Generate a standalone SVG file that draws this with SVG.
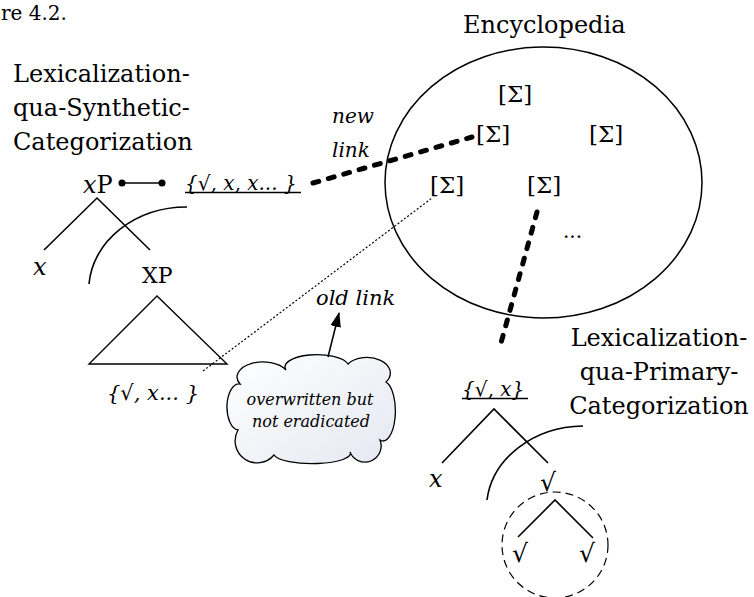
<svg xmlns="http://www.w3.org/2000/svg" width="754" height="597" viewBox="0 0 754 597">
  <style>
    text { font-family: "DejaVu Serif", "Liberation Serif", serif; fill: #000; }
    .lbl { font-size: 24px; }
    .it { font-style: italic; }
    .sig { font-size: 23px; }
    .edge { fill: none; stroke: #000; stroke-width: 1.6; }
    .thick { fill: none; stroke: #000; stroke-width: 5; stroke-dasharray: 6 10; stroke-linecap: round; }
    .thin { fill: none; stroke: #000; stroke-width: 1.2; stroke-dasharray: 2 2; }
  </style>
  <defs>
    <linearGradient id="cloudFill" x1="0" y1="0" x2="1" y2="1">
      <stop offset="0" stop-color="#ffffff"/>
      <stop offset="1" stop-color="#e4e8f1"/>
    </linearGradient>
    <marker id="bigHead" viewBox="0 0 14 10" refX="13" refY="5" markerWidth="15" markerHeight="11" markerUnits="userSpaceOnUse" orient="auto">
      <path d="M0 0 L14 5 L0 10 Z" fill="#000"/>
    </marker>
  </defs>

  <!-- caption fragment at the top edge -->
  <text x="1" y="20" font-size="20">re 4.2.</text>

  <!-- encyclopedia -->
  <g id="encyclopedia">
    <text class="lbl" x="463" y="33">Encyclopedia</text>
    <ellipse cx="543.5" cy="182.5" rx="158.5" ry="135.5" fill="none" stroke="#000" stroke-width="1.5"/>
    <text class="sig" x="498" y="102">[Σ]</text>
    <text class="sig" x="476" y="142">[Σ]</text>
    <text class="sig" x="589" y="142">[Σ]</text>
    <text class="sig" x="430" y="193">[Σ]</text>
    <text class="sig" x="527" y="193">[Σ]</text>
    <text x="563" y="238" font-size="20">...</text>
  </g>

  <!-- synthetic categorization tree -->
  <g id="synthetic">
    <text class="lbl" x="13" y="82">Lexicalization-</text>
    <text class="lbl" x="13" y="116">qua-Synthetic-</text>
    <text class="lbl" x="13" y="150">Categorization</text>
    <text class="lbl" x="83" y="193"><tspan class="it">x</tspan>P</text>
    <path class="edge" d="M44 250 L97 198 L150 250"/>
    <text class="lbl it" x="33" y="275">x</text>
    <text x="142" y="283" font-size="22">XP</text>
    <path class="edge" d="M89 284 A98 83 0 0 1 187 207"/>
    <path d="M157 296 L89 364 L227 364 Z" fill="none" stroke="#000" stroke-width="1.4"/>
    <text class="it" x="107" y="400" font-size="21">{√, x... }</text>
  </g>

  <!-- lexical set linked to xP -->
  <g id="set-new">
    <text class="it" x="185" y="190" font-size="20">{√, x, x... }</text>
    <line x1="185" y1="192.5" x2="301" y2="192.5" stroke="#000" stroke-width="1.4"/>
  </g>

  <!-- primary categorization tree -->
  <g id="primary">
    <text class="lbl" x="659" y="346" text-anchor="middle">Lexicalization-</text>
    <text class="lbl" x="659" y="380" text-anchor="middle">qua-Primary-</text>
    <text class="lbl" x="659" y="414" text-anchor="middle">Categorization</text>
    <text class="it" x="462" y="396" font-size="20">{√, x}</text>
    <line x1="462" y1="398.5" x2="528" y2="398.5" stroke="#000" stroke-width="1.4"/>
    <path class="edge" d="M442 463 L494 409 L548 463"/>
    <text class="lbl it" x="429" y="487">x</text>
    <text class="it" x="540" y="491" font-size="25">√</text>
  </g>

  <!-- decomposed root -->
  <g id="root">
    <path class="edge" d="M487 500 A98 83 0 0 1 583 426"/>
    <circle cx="555" cy="545" r="53" fill="none" stroke="#000" stroke-width="1.2" stroke-dasharray="8 5"/>
    <path class="edge" d="M518 537 L555 500 L593 538"/>
    <text class="it" x="512" y="562" font-size="25">√</text>
    <text class="it" x="579" y="562" font-size="25">√</text>
  </g>

  <!-- annotation cloud -->
  <g id="cloud">
    <path d="M240 384 A24 14 0 0 1 286 370 A31 12 0 0 1 348 364 A21 14 0 0 1 386 382 A12 29 0 0 1 380 440 A16 16 0 0 1 350 452 A38 10 0 0 1 274 455 A22 22 0 0 1 238 430 A12 23 0 0 1 240 384 Z" fill="url(#cloudFill)" stroke="#000" stroke-width="1.3"/>
    <text class="it" x="310" y="405" font-size="16" text-anchor="middle">overwritten but</text>
    <text class="it" x="311" y="427" font-size="16" text-anchor="middle">not eradicated</text>
  </g>

  <!-- link labels -->
  <g id="labels">
    <text class="it" x="332" y="123" font-size="20">new</text>
    <text class="it" x="332" y="157" font-size="20">link</text>
    <text class="it" x="316" y="305" font-size="21">old link</text>
  </g>

  <!-- connectors -->
  <g id="connectors">
    <line x1="122" y1="183" x2="162" y2="183" stroke="#000" stroke-width="1.5"/>
    <circle cx="122" cy="183" r="3.5" fill="#000"/>
    <circle cx="162" cy="183" r="3.5" fill="#000"/>
    <line class="thick" x1="313" y1="183" x2="472" y2="137"/>
    <line class="thick" x1="537" y1="212" x2="501" y2="343"/>
    <line class="thin" x1="203" y1="371" x2="432" y2="198"/>
    <line x1="328" y1="357" x2="339" y2="313" stroke="#000" stroke-width="1.6" marker-end="url(#bigHead)"/>
  </g>
</svg>
